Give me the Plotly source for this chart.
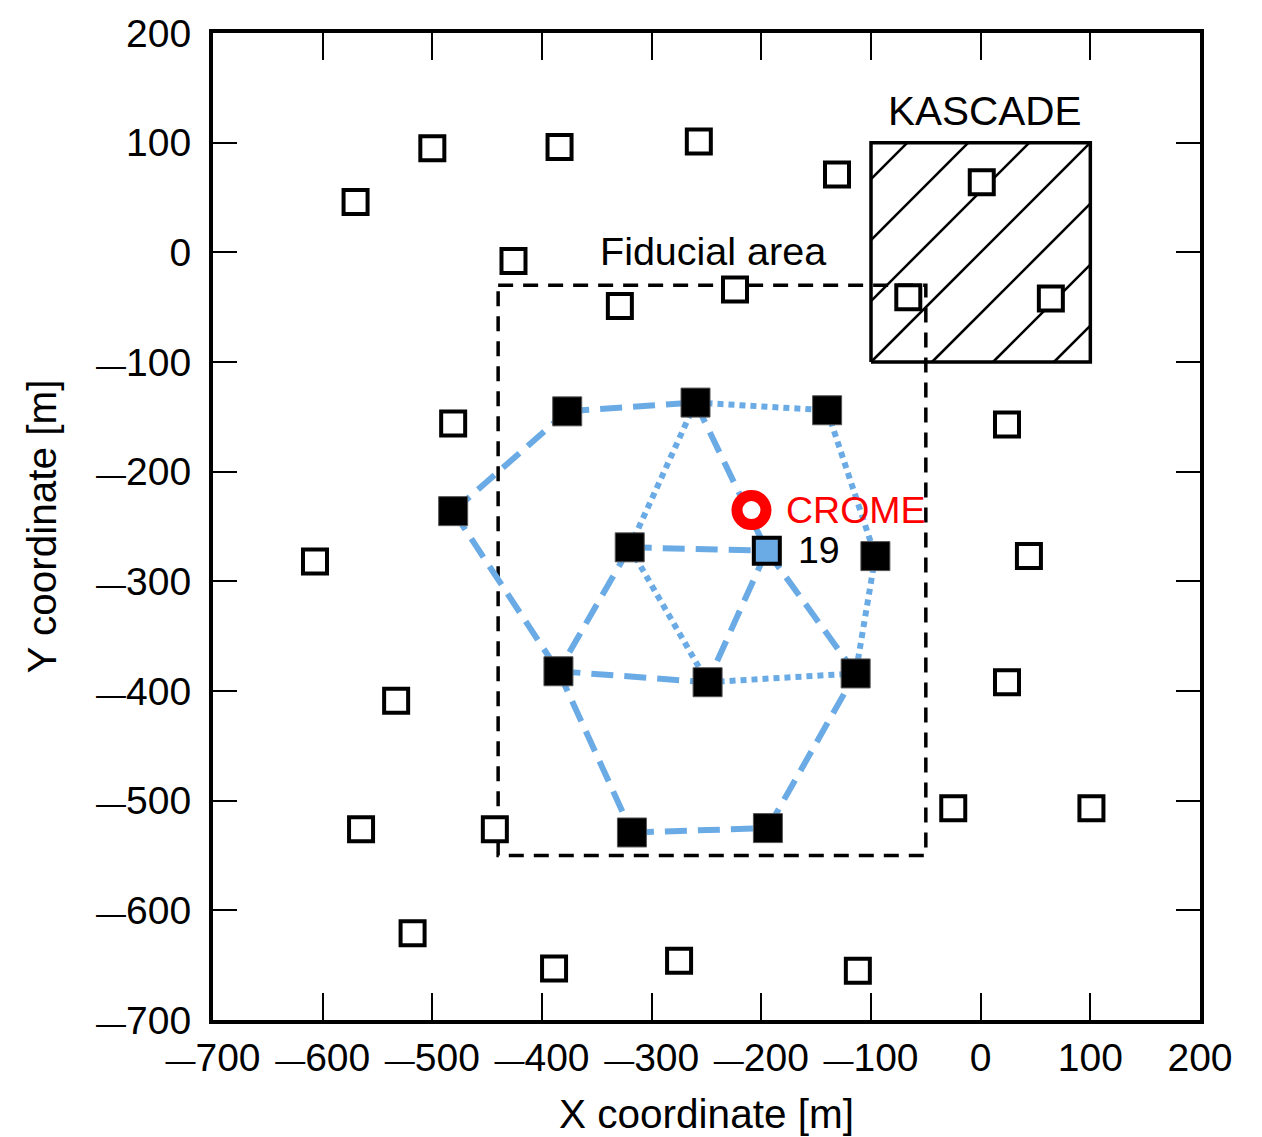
import plotly.graph_objects as go

# ---------------- data ----------------
# open (unused) stations
open_x = [-570, -500, -384, -257, -131, 1, -426, -329, -224, -66, 64, -481, 24,
          -607, 44, -533, 24, -565, -443, -25, 101, -518, -389, -275, -112]
open_y = [46, 95, 96, 101, 71, 64, -8, -49, -34, -41, -42, -156, -157,
          -282, -277, -409, -392, -526, -526, -507, -507, -621, -653, -646, -655]

# filled (used) stations, labelled A..L ; F is station 19
fill_names = ["A", "B", "C", "D", "E", "F", "G", "H", "I", "J", "K", "L"]
fill_x = [-377, -260, -140, -481, -320, -195, -96, -385, -249, -114, -318, -194]
fill_y = [-145, -137, -144, -236, -269, -272, -277, -382, -392, -384, -529, -525]

station19 = "F"
crome_x = [-209]
crome_y = [-235]

dashed_links = [("D", "A"), ("A", "B"), ("B", "F"), ("D", "H"), ("E", "F"), ("E", "H"),
                ("F", "I"), ("F", "J"), ("H", "I"), ("H", "K"), ("K", "L"), ("L", "J")]
dotted_links = [("B", "C"), ("B", "E"), ("C", "G"), ("G", "J"), ("E", "I"), ("I", "J")]

fiducial_x = [-440, -50]
fiducial_y = [-550, -30]
kascade_x = [-100, 100]
kascade_y = [-100, 100]
hatch_spacing = 55.6

tick_vals = list(range(-700, 201, 100))

# ---------------- styling ----------------
FONT = "Liberation Sans"
BLUE = "#6aabe6"


def tick_label(v):
    if v < 0:
        return '<span style="font-size:30px">\u2014</span>' + str(abs(v))
    return str(v)


tick_text = [tick_label(v) for v in tick_vals]
pos = {n: (x, y) for n, x, y in zip(fill_names, fill_x, fill_y)}

fig = go.Figure()

# KASCADE hatching (lines y = x + c clipped to the box)
hx, hy = [], []
x0, x1 = kascade_x
y0, y1 = kascade_y
k = -10
while k <= 10:
    c = k * hatch_spacing
    xa = max(x0, y0 - c)
    xb = min(x1, y1 - c)
    if xb > xa:
        hx += [xa, xb, None]
        hy += [xa + c, xb + c, None]
    k += 1
fig.add_trace(go.Scatter(x=hx, y=hy, mode="lines", line=dict(color="black", width=2.5),
                         hoverinfo="skip", showlegend=False))
# KASCADE box
fig.add_trace(go.Scatter(x=[x0, x1, x1, x0, x0], y=[y0, y0, y1, y1, y0], mode="lines",
                         line=dict(color="black", width=3.5), showlegend=False))
# fiducial area
fx0, fx1 = fiducial_x
fy0, fy1 = fiducial_y
fig.add_trace(go.Scatter(x=[fx0, fx1, fx1, fx0, fx0], y=[fy1, fy1, fy0, fy0, fy1], mode="lines",
                         line=dict(color="black", width=3.5, dash="15px,10px"), showlegend=False))

# links
for links, dash in ((dashed_links, "22px,11px"), (dotted_links, "6px,5px")):
    for a, b in links:
        fig.add_trace(go.Scatter(x=[pos[a][0], pos[b][0]], y=[pos[a][1], pos[b][1]],
                                 mode="lines", line=dict(color=BLUE, width=6, dash=dash),
                                 showlegend=False))

# open stations
fig.add_trace(go.Scatter(x=open_x, y=open_y, mode="markers",
                         marker=dict(symbol="square", size=24, color="white",
                                     line=dict(color="black", width=4)),
                         showlegend=False))
# filled stations
fx = [x for n, x in zip(fill_names, fill_x) if n != station19]
fy = [y for n, y in zip(fill_names, fill_y) if n != station19]
fig.add_trace(go.Scatter(x=fx, y=fy, mode="markers",
                         marker=dict(symbol="square", size=29, color="black",
                                     line=dict(color="#555", width=1)),
                         showlegend=False))
# station 19
fig.add_trace(go.Scatter(x=[pos[station19][0]], y=[pos[station19][1]], mode="markers",
                         marker=dict(symbol="square", size=26, color=BLUE,
                                     line=dict(color="black", width=4)),
                         showlegend=False))
# CROME
fig.add_trace(go.Scatter(x=crome_x, y=crome_y, mode="markers",
                         marker=dict(symbol="circle", size=29, color="white",
                                     line=dict(color="red", width=11)),
                         showlegend=False))

annots = [
    dict(x=4, y=129, text="KASCADE", xanchor="center", yanchor="middle", color="black", size=40.5),
    dict(x=-244, y=1, text="Fiducial area", xanchor="center", yanchor="middle", color="black", size=39.5),
    dict(x=-179, y=-235, text="CROME", xanchor="left", yanchor="middle", color="red", size=37.5),
    dict(x=-168, y=-271, text="19", xanchor="left", yanchor="middle", color="black", size=37.5),
]
for a in annots:
    fig.add_annotation(x=a["x"], y=a["y"], text=a["text"], xanchor=a["xanchor"],
                       yanchor=a["yanchor"], showarrow=False,
                       font=dict(family=FONT, size=a["size"], color=a["color"]))

axis_common = dict(
    tickmode="array", tickvals=tick_vals, ticktext=tick_text,
    ticks="inside", tickwidth=2, tickcolor="black",
    showline=True, linewidth=4, linecolor="black", mirror="allticks",
    showgrid=False, zeroline=False,
    tickfont=dict(family=FONT, size=39, color="black"),
    automargin=False,
)
fig.update_xaxes(range=[-700, 200], ticklen=27,
                 title=dict(text="X coordinate [m]", font=dict(family=FONT, size=40.5, color="black"),
                            standoff=23),
                 **axis_common)
fig.update_yaxes(range=[-700, 200], ticklen=24, ticklabelstandoff=10,
                 title=dict(text="Y coordinate [m]", font=dict(family=FONT, size=40.5, color="black"),
                            standoff=28),
                 **axis_common)

fig.update_layout(width=1262, height=1137,
                  margin=dict(l=213, r=62, t=33, b=117),
                  plot_bgcolor="white", paper_bgcolor="white",
                  font=dict(family=FONT, size=37, color="black"))

fig.write_html("out.html")
